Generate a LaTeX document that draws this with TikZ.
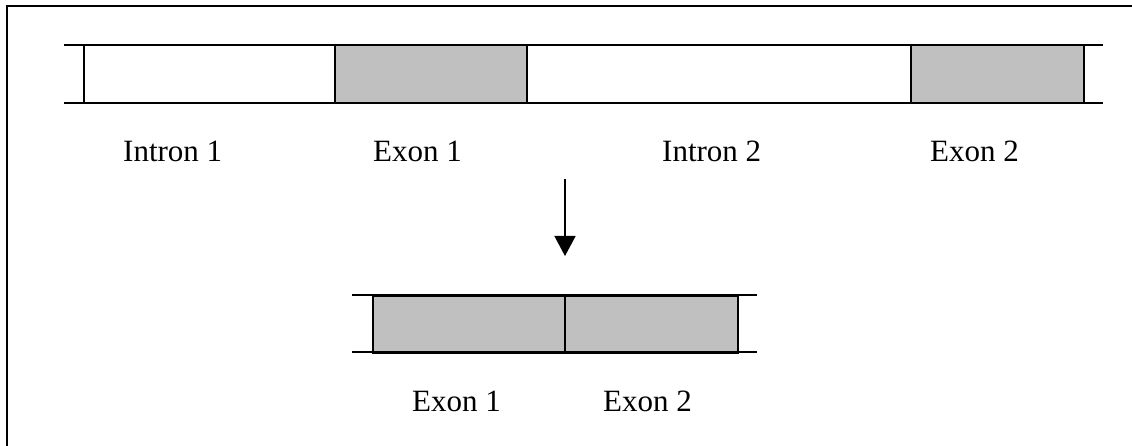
\documentclass[tikz,border=0pt]{standalone}
\usepackage{fontspec}
\setmainfont{Liberation Serif}
\usepackage{tikz}
\usetikzlibrary{arrows.meta, positioning}
\definecolor{exgray}{HTML}{C0C0C0}

\begin{document}
\begin{tikzpicture}[
  x=1pt, y=-1pt,
  strand/.style={
    line width=1.5pt
  },
  exon/.style={
    rectangle,
    draw=black,
    line width=1.5pt,
    fill=exgray,
    inner sep=0pt,
    anchor=north west
  },
  lbl/.style={
    anchor=base west,
    inner sep=0pt,
    font=\fontsize{31}{36}\selectfont
  },
  splice/.style={
    line width=1.5pt,
    -{Triangle[length=20pt, width=21pt]}
  }
]
  \useasboundingbox (0,0) rectangle (1132,446);

  % frame (only top and left show)
  \draw[line width=2pt] (7,446) -- (7,6) -- (1132,6);

  % gene before splicing
  \node[exon, minimum width=192pt, minimum height=58pt] (gex1) at (334,45) {};
  \node[exon, minimum width=173pt, minimum height=58pt] (gex2) at (910,45) {};
  \coordinate (gtl) at (64,45);
  \coordinate (gtr) at (1103,45);
  \coordinate (gbl) at (64,103);
  \coordinate (gbr) at (1103,103);
  \coordinate (gcapt) at (84,45);
  \coordinate (gcapb) at (84,103);
  \draw[strand] (gtl) -- (gtr);
  \draw[strand] (gbl) -- (gbr);
  \draw[strand] (gcapt) -- (gcapb);

  \node[lbl] (lin1) at (123,162) {Intron 1};
  \node[lbl] (lex1) at (373,162) {Exon 1};
  \node[lbl] (lin2) at (662,162) {Intron 2};
  \node[lbl] (lex2) at (930,162) {Exon 2};

  % splicing
  \coordinate (arrtop) at (565,179);
  \coordinate (arrtip) at (565,256);
  \draw[splice] (arrtop) -- (arrtip);

  % spliced product
  \node[exon, minimum width=192pt, minimum height=57pt] (mex1) at (372,295) {};
  \node[exon, minimum width=173pt, minimum height=57pt] (mex2) at (564,295) {};
  \coordinate (mtl) at (352,295);
  \coordinate (mtr) at (757,295);
  \coordinate (mbl) at (352,352);
  \coordinate (mbr) at (757,352);
  \draw[strand] (mtl) -- (mtr);
  \draw[strand] (mbl) -- (mbr);

  \node[lbl] (mlex1) at (412,411) {Exon 1};
  \node[lbl] (mlex2) at (603,411) {Exon 2};
\end{tikzpicture}
\end{document}
